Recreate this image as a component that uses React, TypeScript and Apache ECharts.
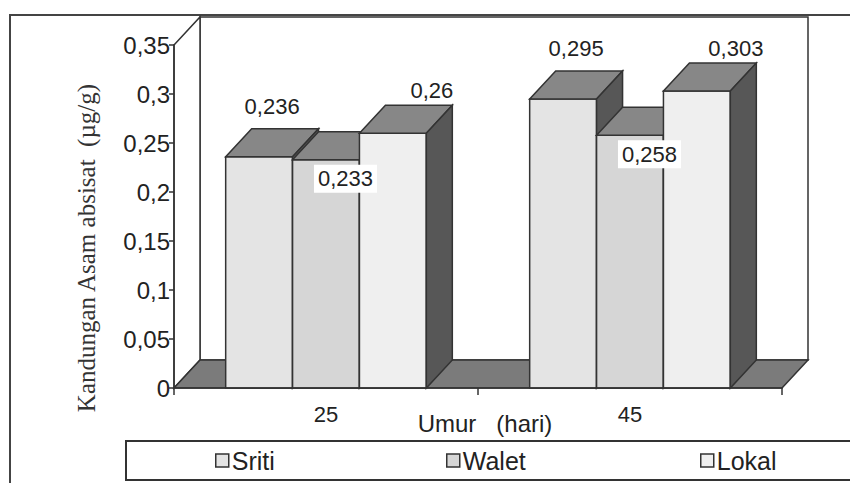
import React, { useEffect, useRef } from "react";
import * as echarts from "echarts";

const categories = ["25", "45"];
const seriesNames = ["Sriti", "Walet", "Lokal"];
const sriti = [0.236, 0.295];
const walet = [0.233, 0.258];
const lokal = [0.26, 0.303];
const yMin = 0;
const yMax = 0.35;
const yInterval = 0.05;
const xTitle = "Umur   (hari)";
const yTitle = "Kandungan Asam absisat  (µg/g)";

const SANS = "'Liberation Sans', Arial, sans-serif";
const SERIF = "'Liberation Serif', 'Times New Roman', serif";
const DX = 26;
const DY = 28;
const BAR_FRAC = 0.22;
const LINE = "#333";

const frontColors = ["#e4e4e4", "#d6d6d6", "#efefef"];
const topColor = "#878787";
const sideColor = "#575757";
const floorColor = "#7b7b7b";

const fmt = (v: number) => String(Number(v.toFixed(3))).replace(".", ",");

const labelPlacement = [
  { dx: DX / 2, dy: -DY - 22, bg: "transparent" },
  { dx: 19.5, dy: 19, bg: "#ffffff" },
  { dx: DX / 2 + 26, dy: -DY - 15, bg: "transparent" },
];

function barRenderer(k: number) {
  return (params: any, api: any) => {
    const ci = api.value(0);
    const v = api.value(1);
    const base = api.coord([ci, 0]);
    const topPt = api.coord([ci, v]);
    const cw = api.size([1, 0])[0];
    const bw = cw * BAR_FRAC;
    const x0 = base[0] - bw * 1.5 + k * bw;
    const x1 = x0 + bw;
    const y0 = base[1];
    const y1 = topPt[1];
    const stroke = { stroke: LINE, lineWidth: 1.5 };
    const lp = labelPlacement[k];
    return {
      type: "group",
      children: [
        {
          type: "rect",
          shape: { x: x0, y: y1, width: bw, height: y0 - y1 },
          style: { fill: frontColors[k], ...stroke },
        },
        {
          type: "polygon",
          shape: { points: [[x0, y1], [x1, y1], [x1 + DX, y1 - DY], [x0 + DX, y1 - DY]] },
          style: { fill: topColor, ...stroke },
        },
        {
          type: "polygon",
          shape: { points: [[x1, y1], [x1 + DX, y1 - DY], [x1 + DX, y0 - DY], [x1, y0]] },
          style: { fill: sideColor, ...stroke },
        },
        {
          type: "text",
          z2: 100,
          style: {
            text: fmt(v),
            x: x0 + bw / 2 + lp.dx,
            y: y1 + lp.dy,
            align: "center",
            verticalAlign: "middle",
            fontSize: 22,
            fontFamily: SANS,
            fill: "#222",
            backgroundColor: lp.bg,
            padding: [3, 4],
          },
        },
      ],
    };
  };
}

function wallsRenderer(params: any, api: any) {
  const c0 = api.coord([0, 0]);
  const cw = api.size([1, 0])[0];
  const left = c0[0] - cw / 2;
  const right = left + cw * categories.length;
  const bottom = c0[1];
  const top = api.coord([0, yMax])[1];
  const stroke = { stroke: LINE, lineWidth: 1.5 };
  return {
    type: "group",
    children: [
      {
        type: "rect",
        shape: { x: left + DX, y: top - DY, width: right - left, height: bottom - top },
        style: { fill: "#ffffff", ...stroke },
      },
      {
        type: "polygon",
        shape: { points: [[left, top], [left + DX, top - DY], [left + DX, bottom - DY], [left, bottom]] },
        style: { fill: "#ffffff", ...stroke },
      },
      {
        type: "polygon",
        shape: { points: [[left, bottom], [right, bottom], [right + DX, bottom - DY], [left + DX, bottom - DY]] },
        style: { fill: floorColor, ...stroke },
      },
    ],
  };
}

export default function App() {
  const ref = useRef<HTMLDivElement>(null);
  useEffect(() => {
    if (!ref.current) return;
    const chart = echarts.init(ref.current, null, { renderer: "svg" });
    const values = [sriti, walet, lokal];
    const legendLefts = [210, 441, 695];
    chart.setOption({
      animation: false,
      backgroundColor: "#ffffff",
      grid: { left: 174, right: 68, top: 45, bottom: 95 },
      xAxis: {
        type: "category",
        data: categories,
        axisLine: { show: true, lineStyle: { color: LINE, width: 1.5 } },
        axisTick: { show: true, length: 7, lineStyle: { color: LINE, width: 1.5 } },
        axisLabel: { fontSize: 22, color: "#222", fontFamily: SANS, margin: 15 },
        z: 5,
      },
      yAxis: {
        type: "value",
        min: yMin,
        max: yMax,
        interval: yInterval,
        splitLine: { show: false },
        axisLine: { show: true, lineStyle: { color: LINE, width: 1.5 } },
        axisTick: { show: true, length: 5, lineStyle: { color: LINE, width: 1.5 } },
        axisLabel: {
          fontSize: 24,
          color: "#222",
          fontFamily: SANS,
          margin: 4,
          formatter: (v: number) => fmt(v),
        },
        z: 5,
      },
      legend: seriesNames.map((n, i) => ({
        data: [n],
        left: legendLefts[i],
        top: 443,
        icon: "rect",
        itemWidth: 13,
        itemHeight: 13,
        itemGap: 4,
        itemStyle: { borderColor: LINE, borderWidth: 1.5 },
        textStyle: { fontSize: 25, color: "#222", fontFamily: SANS, padding: [0, 0, 0, -2] },
        selectedMode: false,
      })),
      graphic: [
        {
          type: "rect",
          shape: { x: 10, y: 15, width: 860, height: 500 },
          style: { fill: "none", stroke: "#444", lineWidth: 2 },
          silent: true,
          z: -1,
        },
        {
          type: "rect",
          shape: { x: 126, y: 441, width: 740, height: 39 },
          style: { fill: "none", stroke: LINE, lineWidth: 2 },
          silent: true,
        },
        {
          type: "text",
          x: 485,
          y: 423,
          style: {
            text: xTitle,
            fontSize: 24,
            fontFamily: SANS,
            fill: "#222",
            align: "center",
            verticalAlign: "middle",
          },
          silent: true,
        },
        {
          type: "text",
          x: 86,
          y: 248,
          rotation: Math.PI / 2,
          style: {
            text: yTitle,
            fontSize: 25,
            fontFamily: SERIF,
            fill: "#333",
            align: "center",
            verticalAlign: "middle",
          },
          silent: true,
        },
      ],
      series: [
        {
          type: "custom",
          name: "walls",
          renderItem: wallsRenderer,
          data: [[0, 0]],
          silent: true,
          z: 1,
        },
        ...seriesNames.map((n, k) => ({
          type: "custom",
          name: n,
          renderItem: barRenderer(k),
          data: categories.map((_, ci) => [ci, values[k][ci]]),
          encode: { x: 0, y: 1 },
          itemStyle: { color: frontColors[k], borderColor: LINE, borderWidth: 1.5 },
          z: 2,
        })),
      ],
    });
    return () => chart.dispose();
  }, []);
  return (
    <div
      ref={ref}
      style={{ position: "fixed", left: 0, top: 0, width: 850, height: 483, background: "#fff" }}
    />
  );
}
